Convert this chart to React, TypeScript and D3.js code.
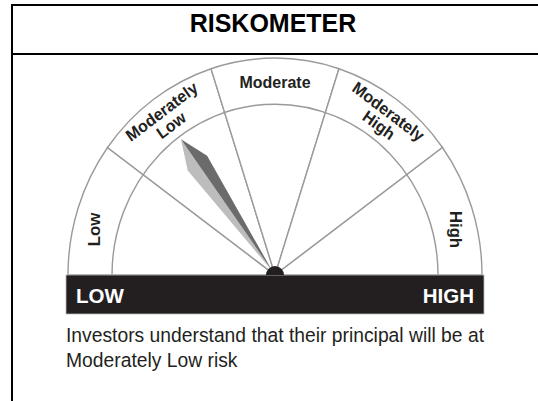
import React from "react";
import * as d3 from "d3";

const title = "RISKOMETER";
const levels = ["Low", "Moderately Low", "Moderate", "Moderately High", "High"];
const selectedLevel = "Moderately Low";
const scaleEnds = ["LOW", "HIGH"];
const noteLines = [
  "Investors understand that their principal will be at",
  "Moderately Low risk",
];

// label layout per segment: lines, angle override, rotation override
const labelLines: string[][] = [["Low"], ["Moderately", "Low"], ["Moderate"], ["Moderately", "High"], ["High"]];

const W = 538;
const H = 401;
const cx = 275;
const cy = 275;
const rOuter = 207;
const rInner = 163;
const yStretch = 1.048;
const ink = "#231f20";
const lineGrey = "#9a9a9a";

export default function App() {
  const pie = d3
    .pie<string>()
    .value(() => 1)
    .sort(null)
    .startAngle(-Math.PI / 2)
    .endAngle(Math.PI / 2);
  const slices = pie(levels);

  const sector = d3.arc<d3.PieArcDatum<string>>().innerRadius(0).outerRadius(rOuter);
  const innerRing = d3
    .arc<void>()
    .innerRadius(rInner)
    .outerRadius(rInner)
    .startAngle(-Math.PI / 2)
    .endAngle(Math.PI / 2);
  const hub = d3
    .arc<void>()
    .innerRadius(0)
    .outerRadius(9)
    .startAngle(-Math.PI / 2)
    .endAngle(Math.PI / 2);

  // angle (degrees, clockwise from up) of the selected segment's middle
  const angle = d3
    .scaleLinear()
    .domain([0, levels.length])
    .range([-90, 90]);
  const needleDeg = angle(levels.indexOf(selectedLevel) + 0.5);

  const midR = (rInner + rOuter) / 2;
  const polar = (deg: number, r: number) => {
    const a = (deg * Math.PI) / 180;
    return [r * Math.sin(a), -r * Math.cos(a)];
  };

  // needle geometry (local, pointing up)
  const tip = 160;
  const wide = 132;
  const half = 12;
  const base = 4;
  const lightPts = [[0, -tip], [-half, -wide], [0, -base]];
  const darkPts = [[0, -tip], [half, -wide], [0, -base]];
  const pts = (p: number[][]) => p.map((d) => d.join(",")).join(" ");

  return (
    <svg
      width={W}
      height={H}
      style={{ position: "absolute", left: 0, top: 0, background: "#fff" }}
      fontFamily="'Liberation Sans', Arial, sans-serif"
    >
      {/* frame */}
      <line x1={12} y1={5} x2={W} y2={5} stroke="#000" strokeWidth={2} />
      <line x1={12} y1={54} x2={W} y2={54} stroke="#000" strokeWidth={2} />
      <line x1={12} y1={4} x2={12} y2={H} stroke="#000" strokeWidth={2} />
      <text x={273} y={32} textAnchor="middle" fontSize={25} fontWeight="bold" fill="#000">
        {title}
      </text>

      <g transform={`translate(${cx},${cy}) scale(1,${yStretch})`}>
        {slices.map((s, i) => (
          <path key={i} d={sector(s) ?? ""} fill="#fff" stroke={lineGrey} strokeWidth={1.4} />
        ))}
        <path d={innerRing() ?? ""} fill="none" stroke={lineGrey} strokeWidth={1.4} />

        {labelLines.map((lines, i) => {
          const mid = angle(i + 0.5);
          const edge = i === 0 || i === levels.length - 1;
          const deg = edge ? (mid < 0 ? -76.5 : 76.5) : mid;
          const rot = edge ? (mid < 0 ? -90 : 90) : mid;
          const rs = lines.length === 2 ? [193, 177] : [edge ? 186 : 184];
          return lines.map((t, j) => {
            const [x, y] = polar(deg, rs[j]);
            return (
              <text
                key={`${i}-${j}`}
                transform={`translate(${x},${y}) rotate(${rot})`}
                textAnchor="middle"
                dy="0.36em"
                fontSize={16}
                fontWeight="bold"
                fill={ink}
              >
                {t}
              </text>
            );
          });
        })}

        <g transform={`rotate(${needleDeg})`}>
          <polygon points={pts(lightPts)} fill="#bdbdbd" />
          <polygon points={pts(darkPts)} fill="#6b6b6b" />
        </g>
      </g>

      {/* scale bar */}
      <rect x={66} y={cy} width={418} height={39} fill={ink} stroke="#bbb" strokeWidth={0.8} />
      <path d={hub() ?? ""} transform={`translate(${cx},${cy})`} fill={ink} />
      <text x={76} y={303} fontSize={20.5} fontWeight="bold" fill="#fff">
        {scaleEnds[0]}
      </text>
      <text x={474} y={303} textAnchor="end" fontSize={20.5} fontWeight="bold" fill="#fff">
        {scaleEnds[1]}
      </text>

      {noteLines.map((t, i) => (
        <text key={i} x={66} y={342 + i * 25} fontSize={19.3} fill={ink}>
          {t}
        </text>
      ))}
    </svg>
  );
}
